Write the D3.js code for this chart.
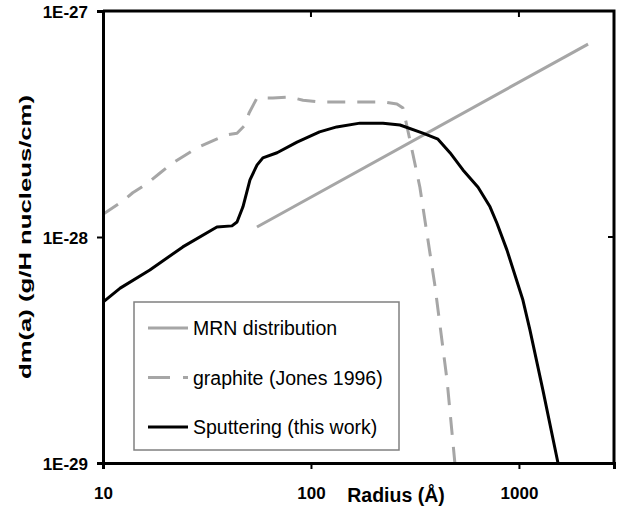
<!DOCTYPE html>
<html>
<head>
<meta charset="utf-8">
<script src="https://cdn.jsdelivr.net/npm/d3@7/dist/d3.min.js"></script>
<style>
  body { margin: 0; background: #fff; }
  svg { display: block; font-family: Arial, "Liberation Sans", sans-serif; }
</style>
</head>
<body>
<div class="graph"></div>
<script>
// data (radius in Angstrom, dm(a) in g/H nucleus/cm)
var mrnRadius = [55, 2150];
var mrnMass = [1.107e-28, 7.14e-28];

var graphiteRadius = [10, 12.3, 13.9, 16.4, 18.8, 21.5, 25.4, 28.3, 34.5, 39.4, 44.1, 48.2, 50.4, 55,
  65.6, 79.2, 91.6, 110, 149, 222, 259, 277, 299, 334, 394, 451, 492];
var graphiteMass = [1.26e-28, 1.43e-28, 1.57e-28, 1.73e-28, 1.92e-28, 2.12e-28, 2.33e-28, 2.48e-28, 2.69e-28,
  2.83e-28, 2.88e-28, 3.13e-28, 3.54e-28, 4.12e-28, 4.12e-28, 4.16e-28, 4.03e-28, 3.96e-28, 3.96e-28,
  3.96e-28, 3.88e-28, 3.72e-28, 2.69e-28, 1.66e-28, 6.14e-29, 2.33e-29, 1e-29];

var sputterRadius = [10, 12.1, 16.8, 24.2, 35.3, 41.7, 44.1, 47.1, 50.9, 55, 58.7, 68.7, 85.7, 110, 133,
  172, 222, 268, 345, 408, 466, 538, 636, 726, 784, 876, 1045, 1130, 1304, 1541];
var sputterMass = [5.15e-29, 5.94e-29, 7.14e-29, 9.04e-29, 1.107e-28, 1.12e-28, 1.165e-28, 1.36e-28,
  1.79e-28, 2.08e-28, 2.24e-28, 2.36e-28, 2.63e-28, 2.92e-28, 3.07e-28, 3.19e-28, 3.19e-28, 3.13e-28,
  2.88e-28, 2.71e-28, 2.36e-28, 1.98e-28, 1.66e-28, 1.36e-28, 1.15e-28, 8.75e-29, 5.26e-29, 3.87e-29,
  2.10e-29, 1e-29];

var xTicks = [10, 100, 1000];
var yTicks = [1e-29, 1e-28, 1e-27];
var yTickLabels = ["1E-29", "1E-28", "1E-27"];
var legendNames = ["MRN distribution", "graphite (Jones 1996)", "Sputtering (this work)"];

var width = 623, height = 508;
var plot = {left: 103, right: 614, top: 11, bottom: 463};

var x = d3.scaleLog().domain([10, 2865]).range([plot.left, plot.right]);
var y = d3.scaleLog().domain([1e-29, 1e-27]).range([plot.bottom, plot.top]);

var svg = d3.select(".graph").append("svg")
    .attr("width", width)
    .attr("height", height);

svg.append("clipPath").attr("id", "clip")
  .append("rect")
    .attr("x", plot.left).attr("y", plot.top)
    .attr("width", plot.right - plot.left)
    .attr("height", plot.bottom - plot.top);

function zip(xs, ys) {
  return xs.map(function(d, i) { return [d, ys[i]]; });
}

var line = d3.line()
    .x(function(d) { return x(d[0]); })
    .y(function(d) { return y(d[1]); });

var series = [
  {name: legendNames[0], data: zip(mrnRadius, mrnMass), color: "#a6a6a6", dash: null},
  {name: legendNames[1], data: zip(graphiteRadius, graphiteMass), color: "#a6a6a6", dash: "18,12"},
  {name: legendNames[2], data: zip(sputterRadius, sputterMass), color: "#000", dash: null}
];

var lines = svg.append("g").attr("clip-path", "url(#clip)");
series.forEach(function(s) {
  lines.append("path")
      .datum(s.data)
      .attr("d", line)
      .attr("fill", "none")
      .attr("stroke", s.color)
      .attr("stroke-width", 3)
      .attr("stroke-dasharray", s.dash)
      .attr("stroke-linejoin", "round");
});

// frame (top and right border)
svg.append("path")
    .attr("d", "M" + plot.left + "," + plot.top + "H" + plot.right + "V" + plot.bottom)
    .attr("fill", "none")
    .attr("stroke", "#000")
    .attr("stroke-width", 3);

// inner ticks on top and right borders
svg.selectAll(".ttick").data(xTicks.slice(1)).enter().append("line")
    .attr("x1", function(d) { return x(d); })
    .attr("x2", function(d) { return x(d); })
    .attr("y1", plot.top).attr("y2", plot.top + 6)
    .attr("stroke", "#000").attr("stroke-width", 2);
svg.append("line")
    .attr("x1", plot.right).attr("x2", plot.right - 6)
    .attr("y1", y(1e-28)).attr("y2", y(1e-28))
    .attr("stroke", "#000").attr("stroke-width", 2);

var xAxis = d3.axisBottom(x)
    .tickValues(xTicks)
    .tickFormat(d3.format("d"))
    .tickSize(6)
    .tickPadding(18);

var yAxis = d3.axisLeft(y)
    .tickValues(yTicks)
    .tickFormat(function(d, i) { return yTickLabels[i]; })
    .tickSize(6)
    .tickPadding(9);

var gx = svg.append("g")
    .attr("transform", "translate(0," + plot.bottom + ")")
    .call(xAxis);
var gy = svg.append("g")
    .attr("transform", "translate(" + plot.left + ",0)")
    .call(yAxis);

[gx, gy].forEach(function(g) {
  g.select(".domain").attr("stroke-width", 3).attr("stroke", "#000");
  g.selectAll(".tick line").attr("stroke-width", 2).attr("stroke", "#000");
  g.selectAll(".tick text")
      .attr("font-size", 17)
      .attr("font-weight", "bold")
      .attr("font-family", "Arial, 'Liberation Sans', sans-serif")
      .attr("fill", "#000");
});
gy.selectAll(".tick text").attr("dy", "0.36em");

// axis titles
svg.append("text")
    .attr("x", 396)
    .attr("y", 502)
    .attr("text-anchor", "middle")
    .attr("font-size", 19.5)
    .attr("font-weight", "bold")
    .text("Radius (Å)");

svg.append("text")
    .attr("transform", "translate(31,237)rotate(-90)")
    .attr("text-anchor", "middle")
    .attr("font-size", 17)
    .attr("font-weight", "bold")
    .attr("textLength", 284)
    .attr("lengthAdjust", "spacingAndGlyphs")
    .text("dm(a) (g/H nucleus/cm)");

// legend
var legend = svg.append("g");
legend.append("rect")
    .attr("x", 134).attr("y", 302)
    .attr("width", 265).attr("height", 148)
    .attr("fill", "#fff")
    .attr("stroke", "#808080")
    .attr("stroke-width", 1.5);

var rowY = d3.scalePoint().domain(legendNames).range([328, 427]);

series.forEach(function(s) {
  legend.append("line")
      .attr("x1", 148).attr("x2", 188)
      .attr("y1", rowY(s.name)).attr("y2", rowY(s.name))
      .attr("stroke", s.color)
      .attr("stroke-width", 3)
      .attr("stroke-dasharray", s.dash ? "22,13" : null);
  legend.append("text")
      .attr("x", 193)
      .attr("y", rowY(s.name))
      .attr("dy", "0.36em")
      .attr("font-size", 19.5)
      .text(s.name);
});
</script>
</body>
</html>
